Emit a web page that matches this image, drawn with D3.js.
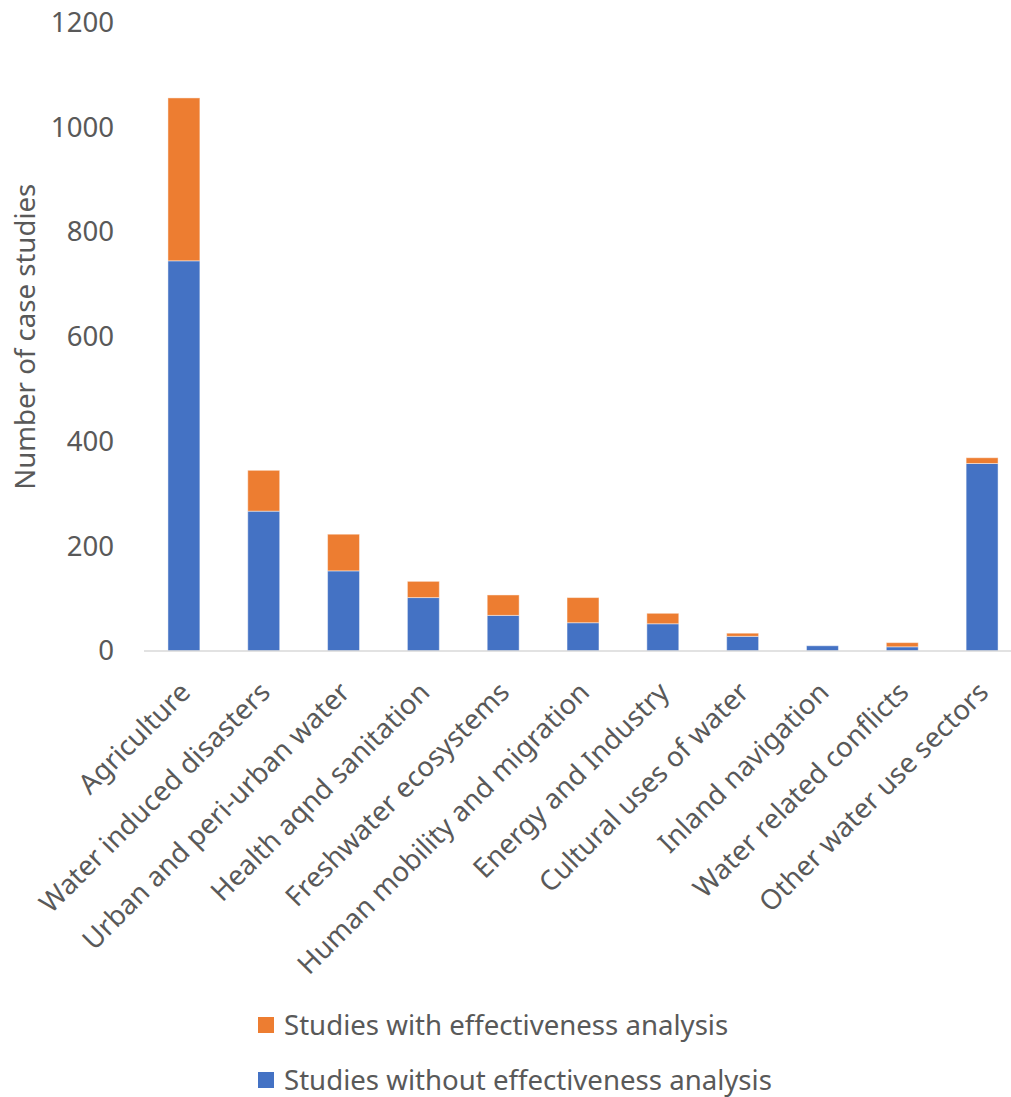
<!DOCTYPE html>
<html>
<head>
<meta charset="utf-8">
<script src="https://cdn.jsdelivr.net/npm/d3@7"></script>
<style>
  html, body { margin: 0; padding: 0; background: #fff; }
  svg { display: block; font-family: "Noto Sans", "Open Sans", sans-serif; }
</style>
</head>
<body>
<svg id="chart" width="1011" height="1097"></svg>
<script>
// Water use sectors covered by the case studies
const categories = [
  "Agriculture",
  "Water induced disasters",
  "Urban and peri-urban water",
  "Health aqnd sanitation",
  "Freshwater ecosystems",
  "Human mobility and migration",
  "Energy and Industry",
  "Cultural uses of water",
  "Inland navigation",
  "Water related conflicts",
  "Other water use sectors"
];
// Case studies without an effectiveness analysis (bottom segment)
const withoutEffectiveness = [745, 267, 153, 102, 68, 54, 52, 28, 10, 8, 358];
// Case studies with an effectiveness analysis (top segment)
const withEffectiveness = [311, 78, 70, 31, 39, 48, 20, 6, 0, 8, 11];
const yTicks = [0, 200, 400, 600, 800, 1000, 1200];

const seriesNames = ["Studies without effectiveness analysis", "Studies with effectiveness analysis"];
const seriesKeys = ["without", "with"];
const colors = { without: "#4472C4", with: "#ED7D31" };

const rows = categories.map((c, i) => ({
  category: c,
  without: withoutEffectiveness[i],
  with: withEffectiveness[i]
}));

const svg = d3.select("#chart");
const plotLeft = 144, plotRight = 1022, plotTop = 22.5, plotBottom = 651;
const fontSize = 27.6;
const textColor = "#595959";

const x = d3.scaleBand().domain(categories).range([plotLeft, plotRight]).paddingInner(0.6).paddingOuter(0.3);
const y = d3.scaleLinear().domain([0, 1200]).range([plotBottom, plotTop]);

const stacked = d3.stack().keys(seriesKeys)(rows);

// Stacked bars
svg.append("g").selectAll("g")
  .data(stacked)
  .join("g")
  .attr("fill", d => colors[d.key])
  .selectAll("rect")
  .data(d => d)
  .join("rect")
  .attr("x", d => x(d.data.category))
  .attr("y", d => y(d[1]))
  .attr("width", x.bandwidth())
  .attr("height", d => Math.max(0, y(d[0]) - y(d[1])))
  .attr("stroke", "#ffffff")
  .attr("stroke-opacity", 0.45)
  .attr("stroke-width", 1);

// Value axis labels (no gridlines)
const yAxis = d3.axisLeft(y).tickValues(yTicks).tickFormat(d3.format("d")).tickSize(0).tickPadding(0);
const yG = svg.append("g").attr("transform", "translate(114,0)").call(yAxis);
yG.select(".domain").remove();
yG.selectAll("text")
  .attr("fill", textColor)
  .attr("font-size", fontSize)
  .attr("font-family", "\"Noto Sans\", sans-serif")
  .attr("text-anchor", "end");

// Category axis, labels slanted at 45 degrees
const xAxis = d3.axisBottom(x).tickSize(0).tickPadding(0);
const xG = svg.append("g").attr("transform", `translate(0,${plotBottom})`).call(xAxis);
xG.select(".domain").remove();
xG.selectAll("text")
  .attr("fill", textColor)
  .attr("font-size", fontSize)
  .attr("font-family", "\"Noto Sans\", sans-serif")
  .attr("text-anchor", "end")
  .attr("dy", 0)
  .attr("transform", "translate(8,43) rotate(-45)");

svg.append("line")
  .attr("x1", plotLeft).attr("x2", 1011)
  .attr("y1", plotBottom).attr("y2", plotBottom)
  .attr("stroke", "#D9D9D9")
  .attr("stroke-width", 1.5);

// Axis title
svg.append("text")
  .attr("transform", `translate(35,${(plotTop + plotBottom) / 2}) rotate(-90)`)
  .attr("text-anchor", "middle")
  .attr("fill", textColor)
  .attr("font-size", fontSize)
  .text("Number of case studies");

// Legend
const legendItems = [
  { key: "with", label: seriesNames[1], y: 1025 },
  { key: "without", label: seriesNames[0], y: 1080 }
];
const lg = svg.append("g").selectAll("g").data(legendItems).join("g")
  .attr("transform", d => `translate(258,${d.y})`);
lg.append("rect")
  .attr("x", 0).attr("y", -8)
  .attr("width", 16).attr("height", 16)
  .attr("fill", d => colors[d.key]);
lg.append("text")
  .attr("x", 26).attr("y", 0)
  .attr("dy", "0.35em")
  .attr("fill", textColor)
  .attr("font-size", fontSize)
  .text(d => d.label);
</script>
</body>
</html>
